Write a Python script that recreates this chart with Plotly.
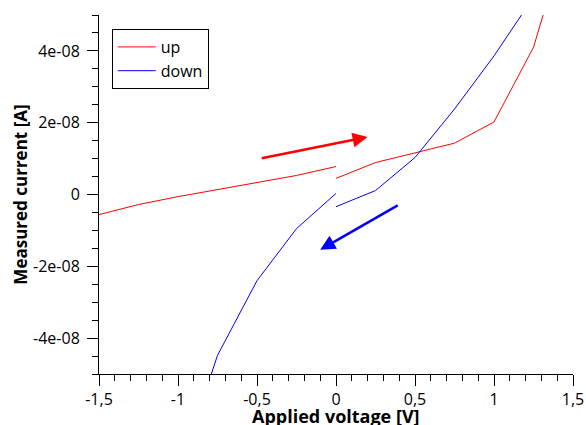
import plotly.graph_objects as go

# I-V sweep: voltage steps [V] and measured current [A]
# "up" sweep: -1.5 V -> 0 V, then 0 V -> 1.5 V (gap at 0 V)
up_v_neg = [-1.5, -1.25, -1.0, -0.75, -0.5, -0.25, 0.0]
up_i_neg = [-5.6e-9, -2.8e-9, -0.6e-9, 1.4e-9, 3.4e-9, 5.3e-9, 7.8e-9]
up_v_pos = [0.0, 0.25, 0.5, 0.75, 1.0, 1.25, 1.5]
up_i_pos = [4.5e-9, 8.9e-9, 1.16e-8, 1.43e-8, 2.02e-8, 4.1e-8, 7.8e-8]

# "down" sweep: 1.5 V -> 0 V, then 0 V -> -1.5 V (gap at 0 V)
down_v_pos = [1.5, 1.25, 1.0, 0.75, 0.5, 0.25, 0.0]
down_i_pos = [7.5e-8, 5.5e-8, 3.86e-8, 2.38e-8, 1.03e-8, 1.1e-9, -3.4e-9]
down_v_neg = [0.0, -0.25, -0.5, -0.75, -1.0, -1.25, -1.5]
down_i_neg = [0.3e-9, -9.5e-9, -2.4e-8, -4.48e-8, -7.8e-8, -1.1e-7, -1.5e-7]

# sweep-direction arrows (tail -> head) in data coordinates
up_arrow = dict(tail=(-0.48, 1.0e-8), head=(0.2, 1.6e-8))
down_arrow = dict(tail=(0.4, -2.8e-9), head=(-0.1, -1.54e-8))

x_ticks = [-1.5, -1.0, -0.5, 0.0, 0.5, 1.0, 1.5]
x_labels = ["-1,5", "-1", "-0,5", "0", "0,5", "1", "1,5"]
y_ticks = [-4e-8, -2e-8, 0.0, 2e-8, 4e-8]
y_labels = ["-4e-08", "-2e-08", "0", "2e-08", "4e-08"]

x_minor = [round(-1.5 + 0.1 * k, 2) for k in range(31)]
y_minor = [round(-5e-8 + 5e-9 * k, 12) for k in range(21)]

FONT = "Open Sans"

fig = go.Figure()
fig.add_trace(go.Scatter(
    x=up_v_neg + [None] + up_v_pos,
    y=up_i_neg + [None] + up_i_pos,
    mode="lines", name="up",
    line=dict(color="#ff0000", width=1),
    connectgaps=False,
))
fig.add_trace(go.Scatter(
    x=down_v_pos + [None] + down_v_neg,
    y=down_i_pos + [None] + down_i_neg,
    mode="lines", name="down",
    line=dict(color="#0000ff", width=1),
    connectgaps=False,
))

for arr, col in ((up_arrow, "#ff0000"), (down_arrow, "#0000ff")):
    fig.add_annotation(
        x=arr["head"][0], y=arr["head"][1],
        ax=arr["tail"][0], ay=arr["tail"][1],
        xref="x", yref="y", axref="x", ayref="y",
        text="", showarrow=True,
        arrowhead=2, arrowsize=1.2, arrowwidth=2.5, arrowcolor=col,
    )

# x-axis title placed as free text so it can sit low against the page edge
fig.add_annotation(
    x=0.5, y=0, xref="paper", yref="paper",
    xanchor="center", yanchor="middle", yshift=-42,
    text="<b>Applied voltage [V]</b>", showarrow=False,
    font=dict(family=FONT, size=18, color="black"),
)

axis_common = dict(
    showgrid=False, zeroline=False,
    showline=True, linecolor="black", linewidth=1,
    ticks="outside", ticklen=11, tickcolor="black", tickwidth=1,
    tickfont=dict(family=FONT, size=16, color="black"),
    mirror=False, automargin=False,
)

fig.update_xaxes(
    range=[-1.5, 1.5],
    tickmode="array", tickvals=x_ticks, ticktext=x_labels,
    minor=dict(tickmode="array", tickvals=x_minor, ticks="outside",
               ticklen=6, tickcolor="black", tickwidth=1),
    ticklabelstandoff=0,
    **axis_common,
)
fig.update_yaxes(
    range=[-5e-8, 5e-8],
    tickmode="array", tickvals=y_ticks, ticktext=y_labels,
    minor=dict(tickmode="array", tickvals=y_minor, ticks="outside",
               ticklen=6, tickcolor="black", tickwidth=1),
    title=dict(text="<b>Measured current [A]</b>", standoff=1,
               font=dict(family=FONT, size=17, color="black")),
    ticklabelstandoff=4,
    **axis_common,
)

fig.update_layout(
    width=586, height=425,
    margin=dict(l=99, r=13, t=15, b=51),
    paper_bgcolor="white", plot_bgcolor="white",
    font=dict(family=FONT, size=15, color="black"),
    showlegend=True,
    legend=dict(
        x=0.027, y=0.961, xanchor="left", yanchor="top",
        bgcolor="white", bordercolor="black", borderwidth=1,
        font=dict(family=FONT, size=16, color="black"),
        itemwidth=38, tracegroupgap=0,
    ),
)

fig.write_html("out.html")
